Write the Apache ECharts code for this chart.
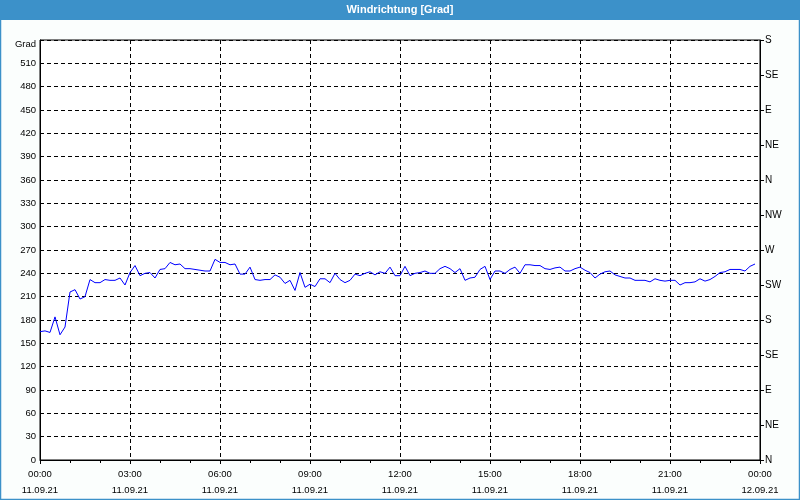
<!DOCTYPE html>
<html>
<head>
<meta charset="utf-8">
<script src="https://cdn.jsdelivr.net/npm/echarts@6/dist/echarts.min.js"></script>
<style>
html,body{margin:0;padding:0;background:#fbfefd;}
#chart{width:800px;height:500px;}
</style>
</head>
<body>
<div id="chart"></div>
<script>
// Wind direction every 10 minutes, 11.09.21 00:00 .. 23:50 (degrees)
var windDirection = [
165,166,164,184,161,171,216,219,207,210,232,228,228,232,231,231,234,225,
241,250,237,240,241,234,245,246,254,251,252,246,246,245,244,243,243,258,
254,254,251,252,239,239,248,232,231,232,232,238,235,227,231,218,241,222,
226,223,233,233,228,240,232,228,231,239,237,240,242,238,242,240,248,237,
237,249,237,240,241,243,240,240,246,249,246,241,246,231,234,235,245,249,
232,243,243,240,245,248,240,251,251,250,250,246,245,247,248,243,243,246,
248,244,241,234,239,242,243,238,236,234,234,231,231,231,229,233,231,230,
231,231,225,228,228,229,233,230,232,236,241,242,245,245,245,243,249,252
];
var stepMinutes = 10;
var xTickLabels = {0:'00:00\n11.09.21',180:'03:00\n11.09.21',360:'06:00\n11.09.21',540:'09:00\n11.09.21',
  720:'12:00\n11.09.21',900:'15:00\n11.09.21',1080:'18:00\n11.09.21',1260:'21:00\n11.09.21',1440:'00:00\n12.09.21'};
var compassLabels = ['N','NE','E','SE','S','SW','W','NW','N','NE','E','SE','S'];
var titleText = 'Windrichtung [Grad]';
var yUnit = 'Grad';

var seriesData = windDirection.map(function(v,i){return [i*stepMinutes, v];});

var font = 'Liberation Sans';
var chart = echarts.init(document.getElementById('chart'));
chart.setOption({
  backgroundColor: '#fbfefd',
  animation: false,
  textStyle: {fontFamily: font},
  graphic: [
    {type:'rect', shape:{x:0.5,y:0.5,width:799,height:499}, style:{fill:null, stroke:'#3c91c9', lineWidth:1.5}, z:100},
    {type:'rect', shape:{x:0,y:0,width:800,height:20}, style:{fill:'#3c91c9'}, z:100},
    {type:'text', left:'center', top:4, style:{text:titleText, fill:'#fff', font:'bold 11px "Liberation Sans"'}, z:101}
  ],
  grid: {left:40, right:40, top:40, bottom:40, show:true, borderColor:'#000', borderWidth:1, backgroundColor:'#ffffff'},
  xAxis: {
    type:'value', min:0, max:1440, interval:180,
    axisLine:{show:true, lineStyle:{color:'#000', width:1}},
    axisTick:{show:true, length:4, lineStyle:{color:'#000'}},
    minorTick:{show:true, splitNumber:3, length:3, lineStyle:{color:'#000'}},
    splitLine:{show:true, lineStyle:{color:'#000', type:[4,3], width:1}},
    axisLabel:{color:'#000', fontSize:9.5, lineHeight:16, margin:6,
      formatter:function(v){return xTickLabels[v] || '';}}
  },
  yAxis: [
    {
      type:'value', min:0, max:540, interval:30, position:'left',
      axisLine:{show:true, lineStyle:{color:'#000'}},
      axisTick:{show:false},
      splitLine:{show:true, lineStyle:{color:'#000', type:[4,3], width:1}},
      axisLabel:{color:'#000', fontSize:9.5, margin:4,
        formatter:function(v){return v===540 ? '{g|'+yUnit+'}' : String(v);},
        rich:{g:{fontSize:9.5, color:'#000', padding:[8,0,0,0]}}}
    },
    {
      type:'value', min:0, max:540, interval:45, position:'right',
      axisLine:{show:true, lineStyle:{color:'#000'}},
      axisTick:{show:true, length:4, lineStyle:{color:'#000'}},
      splitLine:{show:false},
      axisLabel:{color:'#000', fontSize:10, margin:5,
        formatter:function(v){return compassLabels[Math.round(v/45)];}}
    }
  ],
  series: [{
    type:'line', data:seriesData, yAxisIndex:0, showSymbol:false, symbol:'none',
    lineStyle:{color:'#0000ff', width:1}, z:5
  }]
});
</script>
</body>
</html>
